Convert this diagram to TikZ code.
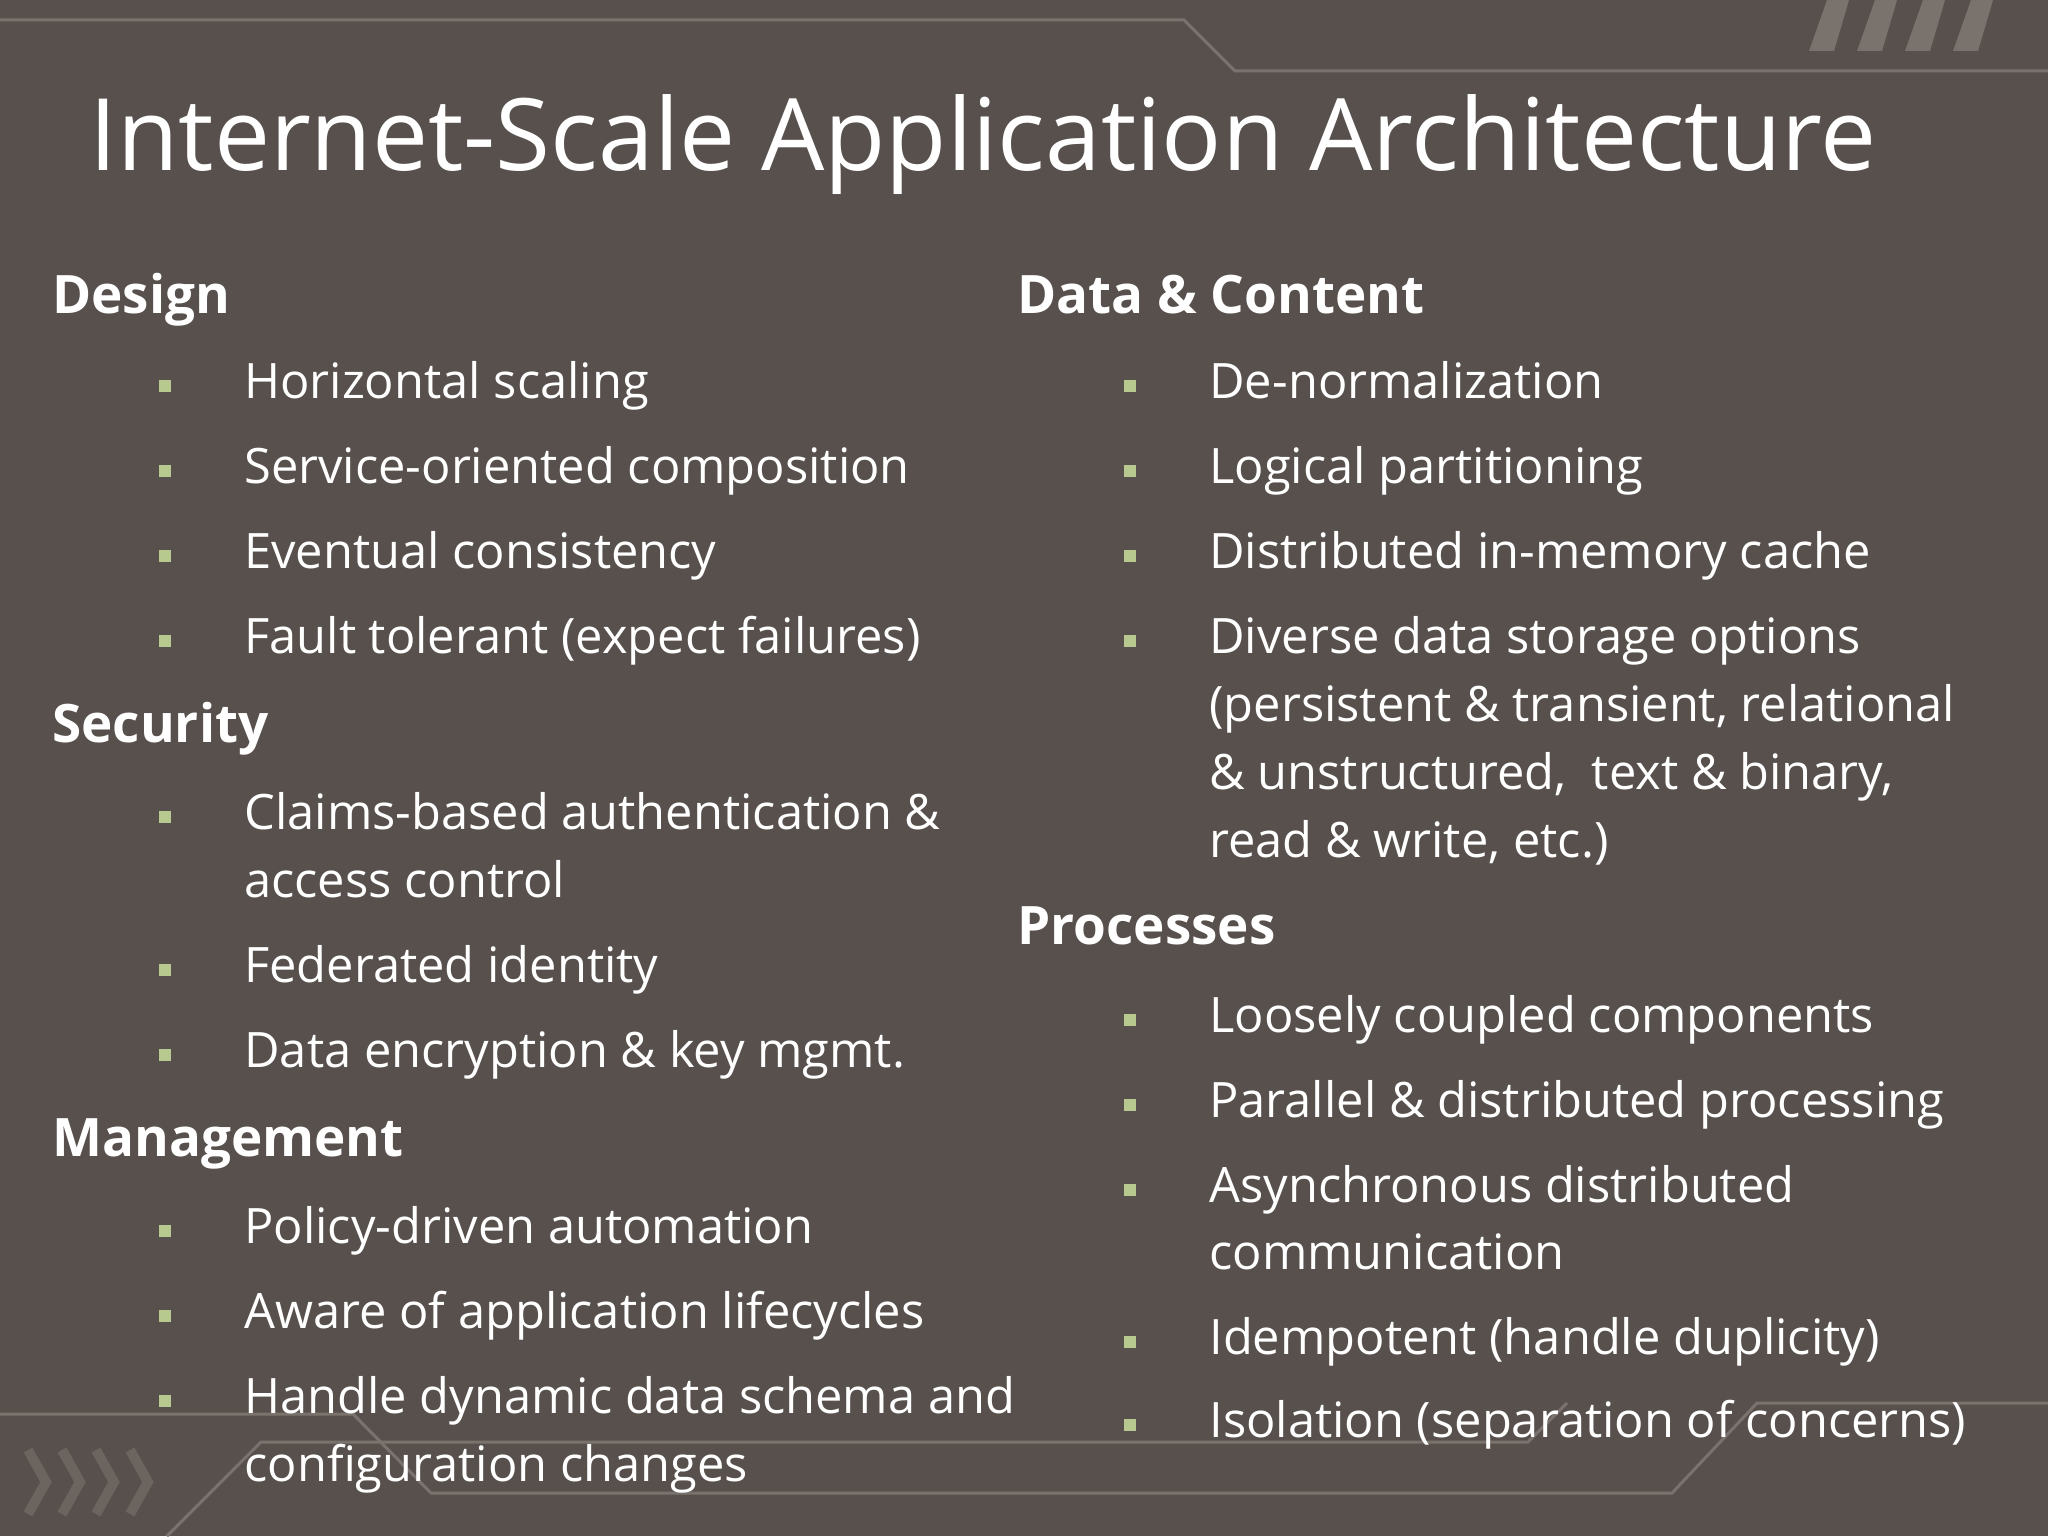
\documentclass[tikz,border=0pt]{standalone}
\usepackage{fontspec}
\setmainfont{Open Sans}
\definecolor{bg}{HTML}{57504C}
\definecolor{deco}{HTML}{7A726D}
\definecolor{bul}{HTML}{B7C98F}
\begin{document}
\begin{tikzpicture}[x=0.5pt,y=-0.5pt,
  title/.style={anchor=base west,text=white,font=\fontsize{50}{52}\selectfont,inner sep=0},
  head/.style={anchor=base west,text=white,font=\bfseries\fontsize{26.5}{30}\selectfont,inner sep=0},
  item/.style={anchor=base west,text=white,font=\fontsize{24.4}{30}\selectfont,inner sep=0,align=left},
  bull/.style={fill=bul,minimum size=6pt,inner sep=0,anchor=center},
  decoline/.style={draw=deco,line width=1.5pt}]
\fill[bg] (0,0) rectangle (2048,1536);
\useasboundingbox (0,0) rectangle (2048,1536);
% decorations
\draw[decoline] (0,20) -- (1184,20) -- (1235,71) -- (2048,71);
\foreach \i in {0,...,3}{
  \fill[deco] ({1809+\i*48},51) -- ({1827+\i*48},0) -- ({1849+\i*48},0) -- ({1834+\i*48},51) -- cycle;}
\draw[decoline] (0,1414) -- (353,1414) -- (431,1493) -- (1672,1493) -- (1757,1403) -- (2048,1403);
\draw[decoline] (167,1536) -- (261,1442) -- (1528,1442) -- (1567,1403);
\foreach \i in {0,...,3}{
  \draw[deco,line width=5pt,opacity=0.6] ({28+\i*34},1450) -- ({46+\i*34},1482) -- ({28+\i*34},1514);}
% title
\node[title] (t) at (89,170) {Internet-Scale Application Architecture};
% left column
\node[head] (h1) at (52,313) {Design};
\node[head] (h2) at (52,742) {Security};
\node[head] (h3) at (52,1156) {Management};
\foreach \n/\y/\t in {a1/398/Horizontal scaling, a2/483/Service-oriented composition, a3/568/Eventual consistency, a4/653/Fault tolerant (expect failures), a5/829/Claims-based authentication \&, a6/982/Federated identity, a7/1067/Data encryption \& key mgmt., a8/1243/Policy-driven automation, a9/1328/Aware of application lifecycles, a10/1413/Handle dynamic data schema and}{
  \node[item] (\n) at (244,\y) {\t};
  \node[bull] (b\n) at (165,\y-12) {};}
\node[item] (a5b) at (244,897) {access control};
\node[item] (a10b) at (244,1481) {configuration changes};
% right column
\node[head] (h4) at (1017,313) {Data \& Content};
\node[head] (h5) at (1017,944) {Processes};
\foreach \n/\y/\t in {c1/398/De-normalization, c2/483/Logical partitioning, c3/568/Distributed in-memory cache, c4/653/Diverse data storage options, c5/1032/Loosely coupled components, c6/1117/Parallel \& distributed processing, c7/1202/Asynchronous distributed, c8/1354/Idempotent (handle duplicity), c9/1437/Isolation (separation of concerns)}{
  \node[item] (\n) at (1209,\y) {\t};
  \node[bull] (b\n) at (1130,\y-12) {};}
\node[item] (c4b) at (1209,721) {(persistent \& transient, relational};
\node[item] (c4c) at (1209,789) {\& unstructured,\ \ text \& binary,};
\node[item] (c4d) at (1209,857) {read \& write, etc.)};
\node[item] (c7b) at (1209,1269) {communication};
\end{tikzpicture}
\end{document}
